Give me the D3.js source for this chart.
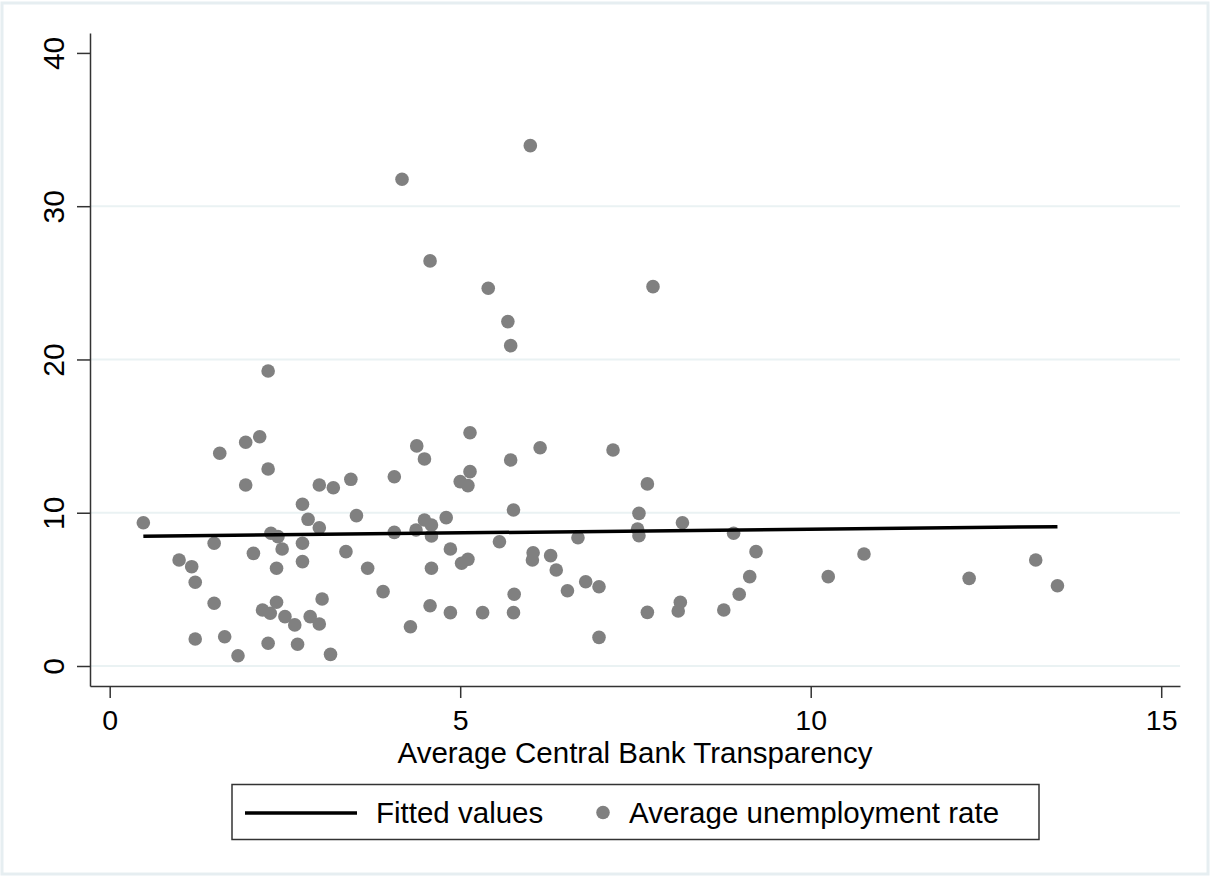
<!DOCTYPE html>
<html>
<head>
<meta charset="utf-8">
<script src="https://cdn.jsdelivr.net/npm/d3@7"></script>
<style>
html,body{margin:0;padding:0;background:#fff;}
svg{display:block;}
text{font-family:"Liberation Sans",Arial,sans-serif;fill:#000;}
</style>
</head>
<body>
<svg id="chart" width="1212" height="878"></svg>
<script>
// Average Central Bank Transparency (x) and Average unemployment rate (y)
const transparency = [
  0.48,0.99,1.17,1.22,1.49,1.49,1.22,1.64,1.83,1.57,
  1.94,2.14,2.26,1.94,2.05,2.26,2.18,2.29,2.38,2.50,
  2.64,2.68,2.30,2.40,2.46,2.38,2.75,2.75,2.75,2.83,
  2.99,2.99,3.19,3.44,3.52,3.37,3.68,3.90,2.86,2.99,
  3.03,3.15,2.26,4.06,4.06,4.29,4.57,4.86,5.32,5.76,
  5.77,4.38,4.49,5.14,5.00,5.14,5.11,4.37,4.49,4.59,
  4.59,4.80,4.86,4.59,5.02,5.11,5.56,5.76,5.72,6.14,
  6.04,6.03,6.29,6.37,6.53,6.68,6.79,6.98,6.98,7.18,
  7.67,7.55,7.53,7.55,7.67,8.17,8.14,8.11,8.90,9.22,
  9.13,8.98,8.76,10.25,10.76,12.26,13.21,13.52,6.00,4.17,
  4.57,5.40,7.75,5.68,5.72
];
const unemployment = [
  9.35,6.92,6.48,5.46,8.01,4.09,1.76,1.91,0.67,13.88,
  14.60,14.96,12.85,11.81,7.35,1.48,3.65,3.44,4.16,3.22,
  2.68,1.42,8.66,8.44,7.63,6.38,8.01,6.81,10.55,9.57,
  9.02,11.81,11.63,12.18,9.81,7.46,6.38,4.85,3.22,2.74,
  4.37,0.76,19.25,12.35,8.72,2.56,3.93,3.48,3.48,3.48,
  4.68,14.36,13.51,15.22,12.03,12.68,11.77,8.87,9.53,9.20,
  8.48,9.68,7.63,6.38,6.70,6.96,8.11,10.18,13.44,14.24,
  7.39,6.92,7.20,6.26,4.91,8.37,5.50,5.17,1.87,14.09,
  11.88,9.96,8.94,8.50,3.50,9.35,4.16,3.59,8.66,7.46,
  5.83,4.68,3.65,5.83,7.31,5.72,6.92,5.24,33.95,31.76,
  26.43,24.65,24.75,22.47,20.90
];
// Fitted values (linear fit) at the extremes of the x data
const fittedX = [0.48, 13.52];
const fittedY = [8.47, 9.09];

const xTicks = [0, 5, 10, 15];
const yTicks = [0, 10, 20, 30, 40];
const gridValues = [0, 10, 20, 30];
const xTitle = "Average Central Bank Transparency";
const legendLabels = ["Fitted values", "Average unemployment rate"];

const svg = d3.select("#chart");
const W = 1212, H = 878;
const plot = {left: 90, right: 1180, top: 33, bottom: 686};

// outer frame
svg.append("rect").attr("x", 2).attr("y", 3).attr("width", W - 6).attr("height", H - 7)
  .attr("fill", "#fff").attr("stroke", "#e6eef1").attr("stroke-width", 3);

const x = d3.scaleLinear().domain([-0.281, 15.268]).range([plot.left, plot.right]);
const y = d3.scaleLinear().domain([-1.305, 41.3]).range([plot.bottom, plot.top]);

// gridlines
svg.append("g").selectAll("line").data(gridValues).join("line")
  .attr("x1", plot.left).attr("x2", plot.right)
  .attr("y1", d => y(d)).attr("y2", d => y(d))
  .attr("stroke", "#eaf2f3").attr("stroke-width", 2);

// points
svg.append("g").selectAll("circle").data(transparency.map((d, i) => [d, unemployment[i]])).join("circle")
  .attr("cx", d => x(d[0])).attr("cy", d => y(d[1])).attr("r", 6.8)
  .attr("fill", "#808080");

// fitted line
svg.append("path")
  .datum(fittedX.map((d, i) => [d, fittedY[i]]))
  .attr("d", d3.line().x(d => x(d[0])).y(d => y(d[1])))
  .attr("stroke", "#000").attr("stroke-width", 3.5).attr("fill", "none");

// y axis
const gy = svg.append("g").attr("transform", `translate(${plot.left},0)`)
  .call(d3.axisLeft(y).tickValues(yTicks).tickSize(13).tickSizeOuter(0).tickFormat(d3.format("d")));
gy.select(".domain").attr("stroke", "#333").attr("stroke-width", 1.5);
gy.selectAll(".tick line").attr("stroke", "#333").attr("stroke-width", 1.5);
gy.selectAll(".tick text")
  .attr("x", null).attr("dy", "0.35em")
  .attr("transform", "translate(-36.5,0) rotate(-90)")
  .attr("text-anchor", "middle")
  .style("font-size", "30px").attr("fill", "#000");

// x axis
const gx = svg.append("g").attr("transform", `translate(0,${plot.bottom})`)
  .call(d3.axisBottom(x).tickValues(xTicks).tickSize(12).tickSizeOuter(0).tickFormat(d3.format("d")));
gx.select(".domain").attr("stroke", "#333").attr("stroke-width", 1.5);
gx.selectAll(".tick line").attr("stroke", "#333").attr("stroke-width", 1.5);
gx.selectAll(".tick text").attr("y", 44).attr("dy", 0)
  .style("font-size", "28.5px").attr("fill", "#000");
gx.selectAll("text").attr("font-family", null);
gy.selectAll("text").attr("font-family", null);

// x title
svg.append("text").attr("x", (plot.left + plot.right) / 2).attr("y", 763)
  .attr("text-anchor", "middle").style("font-size", "29.5px").text(xTitle);

// legend
const lg = svg.append("g");
lg.append("rect").attr("x", 232).attr("y", 784.5).attr("width", 807).attr("height", 55)
  .attr("fill", "#fff").attr("stroke", "#333").attr("stroke-width", 1.5);
lg.append("line").attr("x1", 245).attr("x2", 357).attr("y1", 813).attr("y2", 813)
  .attr("stroke", "#000").attr("stroke-width", 3.5);
lg.append("text").attr("x", 376).attr("y", 823).style("font-size", "29.5px").text(legendLabels[0]);
lg.append("circle").attr("cx", 603).attr("cy", 812.5).attr("r", 6.8).attr("fill", "#808080");
lg.append("text").attr("x", 629).attr("y", 823).style("font-size", "29.5px").text(legendLabels[1]);
</script>
</body>
</html>
